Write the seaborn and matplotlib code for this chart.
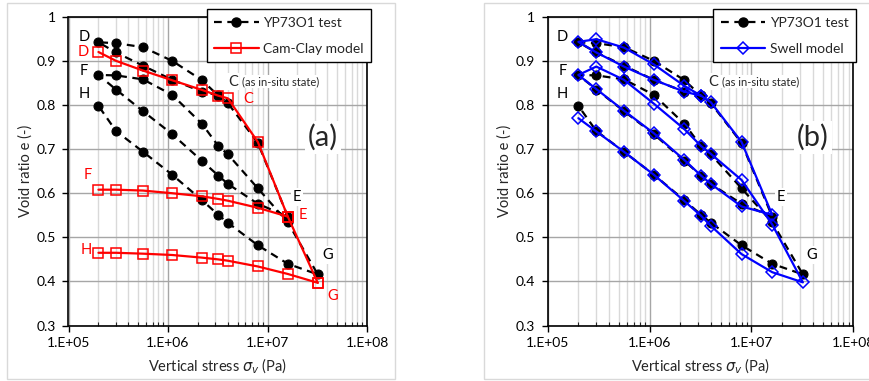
import numpy as np
import pandas as pd
import matplotlib
matplotlib.use('Agg')
import matplotlib.pyplot as plt
import matplotlib.ticker as mticker
from matplotlib.lines import Line2D
from matplotlib.patches import Rectangle
import seaborn as sns

sns.set_style('white')
plt.rcParams['font.family'] = ['Lato', 'DejaVu Sans']
plt.rcParams['mathtext.fontset'] = 'dejavusans'

# ---- data ----
# YP73O1 test: C -> D -> E -> F -> G -> H
test_stress = [3.2e6, 2.2e6, 1.1e6, 5.6e5, 3e5, 2e5,
               3e5, 5.6e5, 1.1e6, 2.2e6, 3.2e6, 4e6, 8e6, 1.6e7,
               8e6, 4e6, 3.2e6, 2.2e6, 1.1e6, 5.6e5, 3e5, 2e5,
               3e5, 5.6e5, 1.1e6, 2.2e6, 3.2e6, 4e6, 8e6, 1.6e7, 3.2e7,
               1.6e7, 8e6, 4e6, 3.2e6, 2.2e6, 1.1e6, 5.6e5, 3e5, 2e5]
test_e = [0.822, 0.830, 0.857, 0.889, 0.919, 0.942,
          0.940, 0.931, 0.900, 0.856, 0.821, 0.804, 0.714, 0.547,
          0.576, 0.621, 0.640, 0.673, 0.734, 0.786, 0.835, 0.868,
          0.867, 0.858, 0.823, 0.757, 0.707, 0.688, 0.611, 0.534, 0.416,
          0.440, 0.482, 0.533, 0.551, 0.584, 0.642, 0.694, 0.741, 0.798]

# Cam-Clay model, by branch
cc_branch = ['DE'] * 9 + ['EF'] * 9 + ['EG'] * 2 + ['GH'] * 10
cc_stress = [2e5, 3e5, 5.6e5, 1.1e6, 2.2e6, 3.2e6, 4e6, 8e6, 1.6e7,
             1.6e7, 8e6, 4e6, 3.2e6, 2.2e6, 1.1e6, 5.6e5, 3e5, 2e5,
             1.6e7, 3.2e7,
             3.2e7, 1.6e7, 8e6, 4e6, 3.2e6, 2.2e6, 1.1e6, 5.6e5, 3e5, 2e5]
cc_e = [0.920, 0.900, 0.878, 0.856, 0.834, 0.821, 0.815, 0.716, 0.547,
        0.547, 0.567, 0.583, 0.587, 0.593, 0.600, 0.606, 0.608, 0.608,
        0.547, 0.397,
        0.397, 0.417, 0.434, 0.447, 0.450, 0.454, 0.460, 0.463, 0.465, 0.465]

# Swell model: C -> D -> E -> F -> G -> H
sw_stress = test_stress
sw_e = [0.821, 0.830, 0.857, 0.887, 0.919, 0.943,
        0.949, 0.930, 0.892, 0.843, 0.821, 0.806, 0.716, 0.551,
        0.570, 0.621, 0.640, 0.675, 0.736, 0.787, 0.836, 0.868,
        0.887, 0.857, 0.803, 0.745, 0.707, 0.689, 0.630, 0.529, 0.398,
        0.421, 0.462, 0.526, 0.549, 0.582, 0.642, 0.694, 0.740, 0.770]

test_df = pd.DataFrame({'stress': test_stress, 'e': test_e})
cc_df = pd.DataFrame({'stress': cc_stress, 'e': cc_e, 'branch': cc_branch})
sw_df = pd.DataFrame({'stress': sw_stress, 'e': sw_e})

fig = plt.figure(figsize=(8.7, 3.81), dpi=100)
W, H = 870, 381

# light chart-area borders
fig.patches.append(Rectangle((7 / W, 1 - 379 / H), 388 / W, 376 / H, transform=fig.transFigure,
                             fill=False, edgecolor='#d9d9d9', lw=1))
fig.patches.append(Rectangle((484 / W, 1 - 379 / H), 400 / W, 376 / H, transform=fig.transFigure,
                             fill=False, edgecolor='#d9d9d9', lw=1))

ax1 = fig.add_axes([68.5 / W, 1 - 325.6 / H, 298.5 / W, 308.9 / H])
ax2 = fig.add_axes([547.7 / W, 1 - 325.6 / H, 305.6 / W, 308.9 / H])


def style_axis(ax):
    ax.set_xscale('log')
    ax.set_xlim(1e5, 1e8)
    ax.set_ylim(0.3, 1.0)
    ax.set_yticks(np.arange(0.3, 1.01, 0.1))
    ax.yaxis.set_major_formatter(mticker.FuncFormatter(lambda v, p: '1' if v > 0.95 else f'{v:.1f}'))
    ax.xaxis.set_major_locator(mticker.LogLocator(base=10, numticks=10))
    ax.xaxis.set_minor_locator(mticker.LogLocator(base=10, subs=np.arange(2, 10), numticks=20))
    ax.xaxis.set_major_formatter(mticker.FuncFormatter(lambda v, p: f'1.E+{int(round(np.log10(v))):02d}'))
    ax.xaxis.set_minor_formatter(mticker.NullFormatter())
    ax.grid(True, which='major', axis='both', color='#a6a6a6', lw=1)
    ax.grid(True, which='minor', axis='x', color='#d9d9d9', lw=1)
    ax.set_axisbelow(True)
    ax.tick_params(axis='both', which='major', direction='out', length=4, width=1, labelsize=10,
                   colors='black', bottom=True, left=True, pad=5)
    ax.tick_params(axis='x', which='major', pad=4)
    ax.tick_params(axis='x', which='minor', direction='in', length=3, width=0.8, bottom=True)
    for s in ax.spines.values():
        s.set_color('black')
        s.set_linewidth(1.2)
    ax.set_xlabel(r'Vertical stress $\sigma_v$ (Pa)', fontsize=10.5, labelpad=6)
    ax.set_ylabel('Void ratio e (-)', fontsize=10.5, labelpad=3)


for ax in (ax1, ax2):
    style_axis(ax)

test_kw = dict(color='black', linestyle=(0, (3.5, 2.5)), lw=1.6, marker='o', markersize=6.5,
               markeredgecolor='black', markerfacecolor='black')

# ---- panel (a) ----
sns.lineplot(data=test_df, x='stress', y='e', sort=False, estimator=None, ax=ax1, **test_kw)
cc_kw = dict(color='#ff0000', lw=1.6, marker='s', markersize=7, markerfacecolor='none',
             markeredgecolor='#ff0000', markeredgewidth=1.1)
sns.lineplot(data=cc_df, x='stress', y='e', units='branch', sort=False, estimator=None, ax=ax1, **cc_kw)

for lab, x, y in [('D', 1.45e5, 0.954), ('F', 1.42e5, 0.876), ('H', 1.45e5, 0.824),
                  ('E', 1.98e7, 0.592), ('G', 4.05e7, 0.461)]:
    ax1.text(x, y, lab, fontsize=10.5, ha='center', va='center', color='black',
             bbox=dict(facecolor='white', edgecolor='none', pad=1.5) if lab in 'EG' else None)
for lab, x, y in [('D', 1.42e5, 0.920), ('F', 1.57e5, 0.642), ('H', 1.52e5, 0.472),
                  ('C', 6.4e6, 0.814), ('E', 2.27e7, 0.551), ('G', 4.55e7, 0.366)]:
    ax1.text(x, y, lab, fontsize=10.5, ha='center', va='center', color='#ff0000')
ax1.text(4.0e6, 0.853, 'C', fontsize=10.5, ha='left', va='center',
         bbox=dict(facecolor='white', edgecolor='none', pad=1))
ax1.text(5.5e6, 0.853, '(as in-situ state)', fontsize=8, ha='left', va='center',
         bbox=dict(facecolor='white', edgecolor='none', pad=1))
ax1.text(3.6e7, 0.726, '(a)', fontsize=21, ha='center', va='center',
         bbox=dict(facecolor='white', edgecolor='none', pad=2))

# ---- panel (b) ----
sns.lineplot(data=test_df, x='stress', y='e', sort=False, estimator=None, ax=ax2, **test_kw)
sw_kw = dict(color='#0000ff', lw=1.6, marker='D', markersize=6, markerfacecolor='none',
             markeredgecolor='#0000ff', markeredgewidth=1.1)
sns.lineplot(data=sw_df, x='stress', y='e', sort=False, estimator=None, ax=ax2, **sw_kw)

for lab, x, y in [('D', 1.40e5, 0.954), ('F', 1.40e5, 0.876), ('H', 1.40e5, 0.825),
                  ('E', 1.95e7, 0.592), ('G', 3.93e7, 0.461)]:
    ax2.text(x, y, lab, fontsize=10.5, ha='center', va='center', color='black',
             bbox=dict(facecolor='white', edgecolor='none', pad=1.5) if lab in 'EG' else None)
ax2.text(3.75e6, 0.853, 'C', fontsize=10.5, ha='left', va='center',
         bbox=dict(facecolor='white', edgecolor='none', pad=1))
ax2.text(5.1e6, 0.853, '(as in-situ state)', fontsize=8, ha='left', va='center',
         bbox=dict(facecolor='white', edgecolor='none', pad=1))
ax2.text(4.0e7, 0.726, '(b)', fontsize=21, ha='center', va='center',
         bbox=dict(facecolor='white', edgecolor='none', pad=2))

# ---- legends ----
h_test = Line2D([], [], **test_kw)
h_cc = Line2D([], [], **cc_kw)
h_sw = Line2D([], [], **sw_kw)
leg_kw = dict(loc='upper right', fontsize=10, frameon=True, fancybox=False, framealpha=1,
              edgecolor='black', handlelength=3.2, labelspacing=1.0, borderpad=0.55,
              handletextpad=0.3, borderaxespad=0)
leg1 = fig.legend([h_test, h_cc], ['YP73O1 test', 'Cam-Clay model'],
                  bbox_to_anchor=(371 / W, 1 - 9 / H), **leg_kw)
leg2 = fig.legend([h_test, h_sw], ['YP73O1 test', 'Swell model'],
                  bbox_to_anchor=(856 / W, 1 - 9 / H), **leg_kw)
for lg in (leg1, leg2):
    lg.get_frame().set_linewidth(1.0)
    lg.set_zorder(10)

for ax in (ax1, ax2):
    if ax.get_legend() is not None:
        ax.get_legend().remove()

fig.savefig('out.png', dpi=100)
